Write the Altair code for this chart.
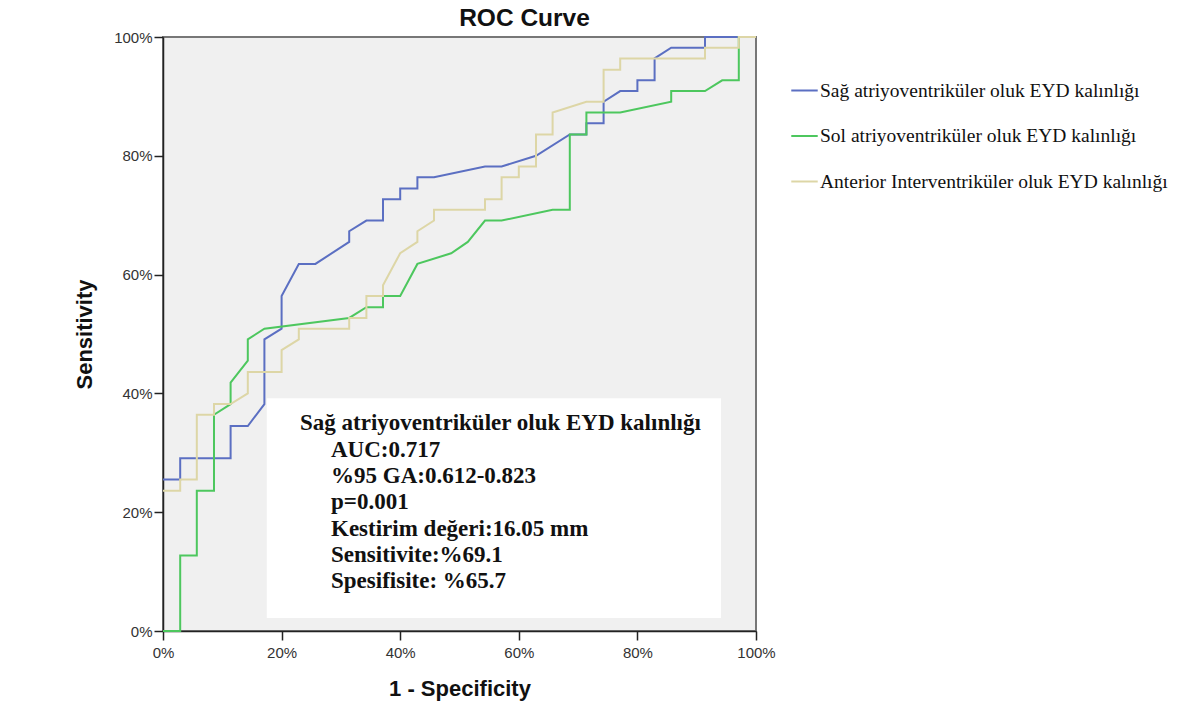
import altair as alt
import pandas as pd

# Series names
names = [
    "Sağ atriyoventriküler oluk EYD kalınlığı",
    "Sol atriyoventriküler oluk EYD kalınlığı",
    "Anterior Interventriküler oluk EYD kalınlığı",
]
colors = ["#5b6fc2", "#4dc75e", "#ddd6a6"]

# 1 - Specificity (%) and Sensitivity (%) vertices
sag_x = [0, 2.9, 2.9, 11.4, 11.4, 14.3, 17.1, 17.1, 20.0, 20.0, 22.9, 25.7, 31.4, 31.4, 34.3, 37.1, 37.1,
         40.0, 40.0, 42.9, 42.9, 45.7, 54.3, 57.1, 62.9, 68.6, 71.4, 71.4, 74.3, 74.3, 77.1, 80.0, 80.0,
         82.9, 82.9, 85.7, 91.4, 91.4, 100]
sag_y = [25.5, 25.5, 29.1, 29.1, 34.5, 34.5, 38.2, 49.1, 50.9, 56.4, 61.8, 61.8, 65.5, 67.3, 69.1, 69.1, 72.7,
         72.7, 74.5, 74.5, 76.4, 76.4, 78.2, 78.2, 80.0, 83.6, 83.6, 85.5, 85.5, 89.1, 90.9, 90.9, 92.7,
         92.7, 96.4, 98.2, 98.2, 100, 100]

sol_x = [0, 2.9, 2.9, 5.7, 5.7, 8.6, 8.6, 11.4, 11.4, 14.3, 14.3, 17.1, 31.4, 34.3, 37.1, 37.1, 40.0, 42.9,
         48.6, 51.4, 54.3, 57.1, 65.7, 68.6, 68.6, 71.4, 71.4, 77.1, 85.7, 85.7, 91.4, 94.3, 97.1, 97.1, 100]
sol_y = [0, 0, 12.7, 12.7, 23.6, 23.6, 36.4, 38.2, 41.8, 45.5, 49.1, 50.9, 52.7, 54.5, 54.5, 56.4, 56.4, 61.8,
         63.6, 65.5, 69.1, 69.1, 70.9, 70.9, 83.6, 83.6, 87.3, 87.3, 89.1, 90.9, 90.9, 92.7, 92.7, 100, 100]

ant_x = [0, 2.9, 2.9, 5.7, 5.7, 8.6, 8.6, 11.4, 14.3, 14.3, 20.0, 20.0, 22.9, 22.9, 31.4, 31.4, 34.3, 34.3,
         37.1, 37.1, 40.0, 42.9, 42.9, 45.7, 45.7, 54.3, 54.3, 57.1, 57.1, 60.0, 60.0, 62.9, 62.9, 65.7,
         65.7, 71.4, 74.3, 74.3, 77.1, 77.1, 91.4, 91.4, 97.1, 97.1, 100]
ant_y = [23.6, 23.6, 25.5, 25.5, 36.4, 36.4, 38.2, 38.2, 40.0, 43.6, 43.6, 47.3, 49.1, 50.9, 50.9, 52.7, 52.7,
         56.4, 56.4, 58.2, 63.6, 65.5, 67.3, 69.1, 70.9, 70.9, 72.7, 72.7, 76.4, 76.4, 78.2, 78.2, 83.6,
         83.6, 87.3, 89.1, 89.1, 94.5, 94.5, 96.4, 96.4, 98.2, 98.2, 100, 100]

ann_title = "Sağ atriyoventriküler oluk EYD kalınlığı"
ann_lines = ["AUC:0.717", "%95 GA:0.612-0.823", "p=0.001", "Kestirim değeri:16.05 mm",
             "Sensitivite:%69.1", "Spesifisite: %65.7"]

rows = []
for name, xs, ys in [(names[0], sag_x, sag_y), (names[1], sol_x, sol_y), (names[2], ant_x, ant_y)]:
    for k, (a, b) in enumerate(zip(xs, ys)):
        rows.append({"series": name, "fpr": a, "tpr": b, "order": k})
df = pd.DataFrame(rows)

xscale = alt.Scale(domain=[0, 100], nice=False)
yscale = alt.Scale(domain=[0, 100], nice=False)

xaxis = alt.Axis(values=[0, 20, 40, 60, 80, 100], labelExpr="datum.value + '%'", title="1 - Specificity",
                 grid=False, domainColor="#222", domainWidth=1.5, tickColor="#222", tickSize=9,
                 tickWidth=1.5, labelFont="Liberation Sans", labelFontSize=15, labelColor="#333",
                 labelPadding=5, labelFlush=False, titleFont="Liberation Sans", titleFontSize=22,
                 titleFontWeight="bold", titleColor="#111", titlePadding=18)
yaxis = alt.Axis(values=[0, 20, 40, 60, 80, 100], labelExpr="datum.value + '%'", title="Sensitivity",
                 grid=False, domainColor="#222", domainWidth=1.5, tickColor="#222", tickSize=9,
                 tickWidth=1.5, labelFont="Liberation Sans", labelFontSize=15, labelColor="#333",
                 labelPadding=2, labelFlush=False, titleFont="Liberation Sans", titleFontSize=22,
                 titleFontWeight="bold", titleColor="#111", titlePadding=17)

lines = alt.Chart(df).mark_line(strokeWidth=2, interpolate="linear").encode(
    x=alt.X("fpr:Q", scale=xscale, axis=xaxis),
    y=alt.Y("tpr:Q", scale=yscale, axis=yaxis),
    color=alt.Color("series:N", scale=alt.Scale(domain=names, range=colors),
                    sort=names,
                    legend=alt.Legend(title=None, orient="none", legendX=627, legendY=39,
                                      symbolType="stroke", symbolSize=700, symbolStrokeWidth=2,
                                      labelFont="Liberation Serif", labelFontSize=19.5, labelColor="#111",
                                      labelLimit=600, rowPadding=21.5, labelOffset=1)),
    order="order:Q",
    detail="series:N",
)

box_df = pd.DataFrame({"x0": [17.5], "x1": [94.1], "y0": [2.2], "y1": [39.2]})
box = alt.Chart(box_df).mark_rect(fill="white").encode(
    x="x0:Q", x2="x1:Q", y="y0:Q", y2="y1:Q")

t1 = alt.Chart(pd.DataFrame({"t": [ann_title]})).mark_text(
    align="left", baseline="middle", font="Liberation Serif", fontWeight="bold", fontSize=23,
    color="#111").encode(x=alt.value(137), y=alt.value(386), text="t:N")
t2 = alt.Chart(pd.DataFrame({"t": [0]})).mark_text(
    align="left", baseline="middle", font="Liberation Serif", fontWeight="bold", fontSize=23,
    color="#111", lineHeight=26.2, text=ann_lines).encode(x=alt.value(168), y=alt.value(413))

chart = alt.layer(lines, box, t1, t2).properties(
    width=593, height=594,
    title=alt.TitleParams("ROC Curve", font="Liberation Sans", fontSize=24.5, fontWeight="bold",
                          color="#111", anchor="middle", dx=65, dy=5, offset=4),
    padding={"left": 163, "top": 37, "right": 445, "bottom": 82},
    autosize=alt.AutoSizeParams(type="none"),
    background="white",
).configure_view(fill="#f0f0f0", stroke="#777", strokeWidth=2)

chart.save("out.html", embed_options={"renderer": "svg", "actions": False})
